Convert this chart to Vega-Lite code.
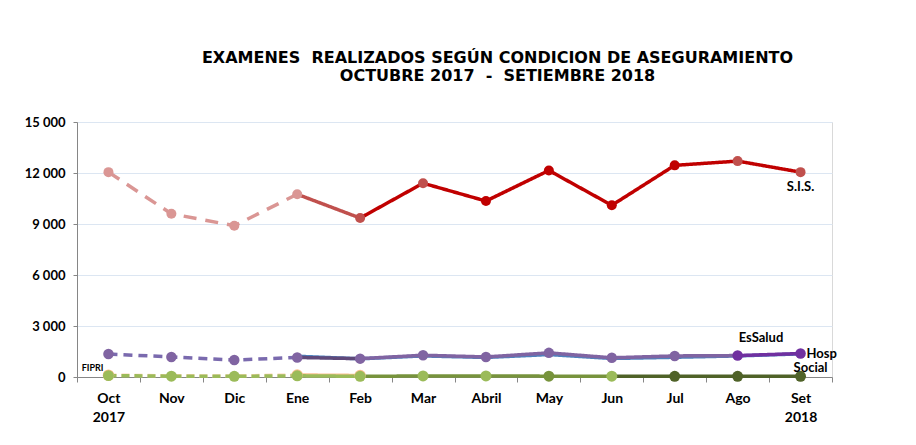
{
  "$schema": "https://vega.github.io/schema/vega-lite/v6.json",
  "width": 755,
  "height": 255,
  "autosize": "none",
  "padding": {"left": 77, "top": 122, "right": 84, "bottom": 68},
  "background": "white",
  "title": {
    "text": ["EXAMENES \u00a0REALIZADOS SEGÚN CONDICION DE ASEGURAMIENTO", "OCTUBRE 2017 \u00a0- \u00a0SETIEMBRE 2018"],
    "font": "DejaVu Sans",
    "fontSize": 16,
    "fontWeight": "bold",
    "color": "black",
    "anchor": "middle",
    "dx": 43,
    "offset": 32,
    "lineHeight": 18
  },
  "config": {
    "view": {"stroke": "#D9D9D9"},
    "axis": {"title": null}
  },
  "resolve": {"scale": {"color": "independent", "size": "independent"}},
  "datasets": {
    "lineas": [
      {"tramo": "Otros-A", "mes": "Oct", "valor": 110},
      {"tramo": "Otros-A", "mes": "Nov", "valor": 70},
      {"tramo": "Otros-A", "mes": "Dic", "valor": 60},
      {"tramo": "Otros-A", "mes": "Ene", "valor": 120},
      {"tramo": "Otros-B", "mes": "Ene", "valor": 120},
      {"tramo": "Otros-B", "mes": "Feb", "valor": 90},
      {"tramo": "FIPRI-A", "mes": "Oct", "valor": 80},
      {"tramo": "FIPRI-A", "mes": "Nov", "valor": 50},
      {"tramo": "FIPRI-A", "mes": "Dic", "valor": 40},
      {"tramo": "FIPRI-A", "mes": "Ene", "valor": 70},
      {"tramo": "FIPRI-B", "mes": "Ene", "valor": 70},
      {"tramo": "FIPRI-B", "mes": "Feb", "valor": 40},
      {"tramo": "FIPRI-C", "mes": "Feb", "valor": 40},
      {"tramo": "FIPRI-C", "mes": "Mar", "valor": 60},
      {"tramo": "FIPRI-C", "mes": "Abril", "valor": 60},
      {"tramo": "FIPRI-C", "mes": "May", "valor": 50},
      {"tramo": "FIPRI-C", "mes": "Jun", "valor": 50},
      {"tramo": "FIPRI-D", "mes": "Jun", "valor": 50},
      {"tramo": "FIPRI-D", "mes": "Jul", "valor": 40},
      {"tramo": "FIPRI-D", "mes": "Ago", "valor": 40},
      {"tramo": "FIPRI-D", "mes": "Set", "valor": 40},
      {"tramo": "EsSalud-B", "mes": "Ene", "valor": 1220},
      {"tramo": "EsSalud-B", "mes": "Feb", "valor": 1070},
      {"tramo": "EsSalud-B", "mes": "Mar", "valor": 1240},
      {"tramo": "EsSalud-B", "mes": "Abril", "valor": 1150},
      {"tramo": "EsSalud-B", "mes": "May", "valor": 1320},
      {"tramo": "EsSalud-B", "mes": "Jun", "valor": 1090},
      {"tramo": "EsSalud-B", "mes": "Jul", "valor": 1160},
      {"tramo": "EsSalud-B", "mes": "Ago", "valor": 1240},
      {"tramo": "EsSalud-B", "mes": "Set", "valor": 1360},
      {"tramo": "Hosp-A", "mes": "Oct", "valor": 1350},
      {"tramo": "Hosp-A", "mes": "Nov", "valor": 1180},
      {"tramo": "Hosp-A", "mes": "Dic", "valor": 1000},
      {"tramo": "Hosp-A", "mes": "Ene", "valor": 1150},
      {"tramo": "Hosp-AB", "mes": "Ene", "valor": 1150},
      {"tramo": "Hosp-AB", "mes": "Feb", "valor": 1080},
      {"tramo": "Hosp-B", "mes": "Feb", "valor": 1080},
      {"tramo": "Hosp-B", "mes": "Mar", "valor": 1280},
      {"tramo": "Hosp-B", "mes": "Abril", "valor": 1180},
      {"tramo": "Hosp-B", "mes": "May", "valor": 1420},
      {"tramo": "Hosp-B", "mes": "Jun", "valor": 1130},
      {"tramo": "Hosp-B", "mes": "Jul", "valor": 1240},
      {"tramo": "Hosp-B", "mes": "Ago", "valor": 1260},
      {"tramo": "Hosp-C", "mes": "Ago", "valor": 1260},
      {"tramo": "Hosp-C", "mes": "Set", "valor": 1380},
      {"tramo": "SIS-A", "mes": "Oct", "valor": 12050},
      {"tramo": "SIS-A", "mes": "Nov", "valor": 9600},
      {"tramo": "SIS-A", "mes": "Dic", "valor": 8900},
      {"tramo": "SIS-A", "mes": "Ene", "valor": 10750},
      {"tramo": "SIS-B", "mes": "Ene", "valor": 10750},
      {"tramo": "SIS-B", "mes": "Feb", "valor": 9350},
      {"tramo": "SIS-C", "mes": "Feb", "valor": 9350},
      {"tramo": "SIS-C", "mes": "Mar", "valor": 11400},
      {"tramo": "SIS-C", "mes": "Abril", "valor": 10350},
      {"tramo": "SIS-C", "mes": "May", "valor": 12150},
      {"tramo": "SIS-D", "mes": "May", "valor": 12150},
      {"tramo": "SIS-D", "mes": "Jun", "valor": 10100},
      {"tramo": "SIS-E", "mes": "Jun", "valor": 10100},
      {"tramo": "SIS-E", "mes": "Jul", "valor": 12450},
      {"tramo": "SIS-E", "mes": "Ago", "valor": 12700},
      {"tramo": "SIS-E", "mes": "Set", "valor": 12050}
    ],
    "puntos": [
      {"serie": "Otros", "grupo": "Otros", "mes": "Oct", "valor": 110},
      {"serie": "Otros", "grupo": "Otros", "mes": "Ene", "valor": 120},
      {"serie": "Otros", "grupo": "Otros", "mes": "Feb", "valor": 90},
      {"serie": "FIPRI", "grupo": "FIPRI-claro", "mes": "Oct", "valor": 80},
      {"serie": "FIPRI", "grupo": "FIPRI-claro", "mes": "Nov", "valor": 50},
      {"serie": "FIPRI", "grupo": "FIPRI-claro", "mes": "Dic", "valor": 40},
      {"serie": "FIPRI", "grupo": "FIPRI-claro", "mes": "Ene", "valor": 70},
      {"serie": "FIPRI", "grupo": "FIPRI-claro", "mes": "Feb", "valor": 40},
      {"serie": "FIPRI", "grupo": "FIPRI-claro", "mes": "Mar", "valor": 60},
      {"serie": "FIPRI", "grupo": "FIPRI-claro", "mes": "Abril", "valor": 60},
      {"serie": "FIPRI", "grupo": "FIPRI-medio", "mes": "May", "valor": 50},
      {"serie": "FIPRI", "grupo": "FIPRI-claro", "mes": "Jun", "valor": 50},
      {"serie": "FIPRI", "grupo": "FIPRI-oscuro", "mes": "Jul", "valor": 40},
      {"serie": "FIPRI", "grupo": "FIPRI-oscuro", "mes": "Ago", "valor": 40},
      {"serie": "FIPRI", "grupo": "FIPRI-oscuro", "mes": "Set", "valor": 40},
      {"serie": "Hosp", "grupo": "Hosp-normal", "mes": "Oct", "valor": 1350},
      {"serie": "Hosp", "grupo": "Hosp-normal", "mes": "Nov", "valor": 1180},
      {"serie": "Hosp", "grupo": "Hosp-normal", "mes": "Dic", "valor": 1000},
      {"serie": "Hosp", "grupo": "Hosp-normal", "mes": "Ene", "valor": 1150},
      {"serie": "Hosp", "grupo": "Hosp-normal", "mes": "Feb", "valor": 1080},
      {"serie": "Hosp", "grupo": "Hosp-normal", "mes": "Mar", "valor": 1280},
      {"serie": "Hosp", "grupo": "Hosp-normal", "mes": "Abril", "valor": 1180},
      {"serie": "Hosp", "grupo": "Hosp-normal", "mes": "May", "valor": 1420},
      {"serie": "Hosp", "grupo": "Hosp-normal", "mes": "Jun", "valor": 1130},
      {"serie": "Hosp", "grupo": "Hosp-normal", "mes": "Jul", "valor": 1240},
      {"serie": "Hosp", "grupo": "Hosp-oscuro", "mes": "Ago", "valor": 1260},
      {"serie": "Hosp", "grupo": "Hosp-oscuro", "mes": "Set", "valor": 1380},
      {"serie": "SIS", "grupo": "SIS-claro", "mes": "Oct", "valor": 12050},
      {"serie": "SIS", "grupo": "SIS-claro", "mes": "Nov", "valor": 9600},
      {"serie": "SIS", "grupo": "SIS-claro", "mes": "Dic", "valor": 8900},
      {"serie": "SIS", "grupo": "SIS-claro", "mes": "Ene", "valor": 10750},
      {"serie": "SIS", "grupo": "SIS-medio", "mes": "Feb", "valor": 9350},
      {"serie": "SIS", "grupo": "SIS-medio", "mes": "Mar", "valor": 11400},
      {"serie": "SIS", "grupo": "SIS-oscuro", "mes": "Abril", "valor": 10350},
      {"serie": "SIS", "grupo": "SIS-oscuro", "mes": "May", "valor": 12150},
      {"serie": "SIS", "grupo": "SIS-oscuro", "mes": "Jun", "valor": 10100},
      {"serie": "SIS", "grupo": "SIS-oscuro", "mes": "Jul", "valor": 12450},
      {"serie": "SIS", "grupo": "SIS-medio", "mes": "Ago", "valor": 12700},
      {"serie": "SIS", "grupo": "SIS-medio", "mes": "Set", "valor": 12050}
    ]
  },
  "encoding": {
    "x": {
      "field": "mes",
      "type": "ordinal",
      "bandPosition": 0.5,
      "scale": {
        "type": "band",
        "paddingInner": 0,
        "paddingOuter": 0,
        "domain": ["Oct", "Nov", "Dic", "Ene", "Feb", "Mar", "Abril", "May", "Jun", "Jul", "Ago", "Set"]
      },
      "axis": {
        "labelExpr": "datum.value == 'Oct' ? ['Oct','2017'] : datum.value == 'Set' ? ['Set','2018'] : datum.value",
        "labelFont": "Lato",
        "labelFontSize": 14,
        "labelFontWeight": "bold",
        "labelColor": "black",
        "labelAngle": 0,
        "labelPadding": 9,
        "labelLineHeight": 19,
        "tickBand": "extent",
        "tickSize": 5,
        "tickColor": "#868686",
        "domainColor": "#868686",
        "grid": false
      }
    },
    "y": {
      "field": "valor",
      "type": "quantitative",
      "scale": {"domain": [0, 15000], "nice": false},
      "axis": {
        "values": [0, 3000, 6000, 9000, 12000, 15000],
        "labelExpr": "replace(format(datum.value, ','), ',', ' ')",
        "labelFont": "Lato",
        "labelFontSize": 13,
        "labelFontWeight": "bold",
        "labelColor": "black",
        "labelPadding": 8,
        "gridColor": "#DCE6F2",
        "tickColor": "#868686",
        "tickSize": 4,
        "domainColor": "#868686"
      }
    }
  },
  "layer": [
    {
      "data": {"name": "lineas"},
      "mark": {"type": "line"},
      "encoding": {
        "detail": {"field": "tramo"},
        "color": {
          "field": "tramo",
          "legend": null,
          "scale": {
            "domain": ["Otros-A", "Otros-B", "FIPRI-A", "FIPRI-B", "FIPRI-C", "FIPRI-D", "EsSalud-B", "Hosp-A", "Hosp-AB", "Hosp-B", "Hosp-C", "SIS-A", "SIS-B", "SIS-C", "SIS-D", "SIS-E"],
            "range": ["#FCD5B5", "#FAC090", "#9BBB59", "#9BBB59", "#77933C", "#4F6228", "#4F81BD", "#7A6AAE", "#5F497A", "#8064A2", "#7030A0", "#DA9694", "#C0504D", "#C00000", "#C00000", "#C00000"]
          }
        },
        "strokeDash": {
          "field": "tramo",
          "legend": null,
          "scale": {
            "domain": ["Otros-A", "Otros-B", "FIPRI-A", "FIPRI-B", "FIPRI-C", "FIPRI-D", "EsSalud-B", "Hosp-A", "Hosp-AB", "Hosp-B", "Hosp-C", "SIS-A", "SIS-B", "SIS-C", "SIS-D", "SIS-E"],
            "range": [[8, 5], [1, 0], [8, 5], [1, 0], [1, 0], [1, 0], [1, 0], [9, 6], [1, 0], [1, 0], [1, 0], [13, 9], [1, 0], [1, 0], [1, 0], [1, 0]]
          }
        },
        "strokeWidth": {
          "field": "tramo",
          "legend": null,
          "scale": {
            "domain": ["Otros-A", "Otros-B", "FIPRI-A", "FIPRI-B", "FIPRI-C", "FIPRI-D", "EsSalud-B", "Hosp-A", "Hosp-AB", "Hosp-B", "Hosp-C", "SIS-A", "SIS-B", "SIS-C", "SIS-D", "SIS-E"],
            "range": [3.5, 3.5, 3.5, 3.5, 3.5, 3.5, 2.5, 4, 4.5, 4.5, 3.5, 5, 5, 5, 2.5, 5]
          }
        }
      }
    },
    {
      "data": {"name": "puntos"},
      "mark": {"type": "circle", "opacity": 1},
      "encoding": {
        "color": {
          "field": "grupo",
          "legend": null,
          "scale": {
            "domain": ["Otros", "FIPRI-claro", "FIPRI-medio", "FIPRI-oscuro", "Hosp-normal", "Hosp-oscuro", "SIS-claro", "SIS-medio", "SIS-oscuro"],
            "range": ["#FAC090", "#9BBB59", "#77933C", "#4F6228", "#8064A2", "#7030A0", "#DA9694", "#C0504D", "#C00000"]
          }
        },
        "size": {
          "field": "serie",
          "legend": null,
          "scale": {"domain": ["Otros", "FIPRI", "Hosp", "SIS"], "range": [130, 100, 170, 150]}
        }
      }
    },
    {
      "data": {"values": [{"mes": "Set", "valor": 11200, "texto": "S.I.S."}]},
      "mark": {"type": "text", "font": "Lato", "fontSize": 13, "fontWeight": "bold", "color": "black", "align": "center", "baseline": "middle"},
      "encoding": {"text": {"field": "texto"}}
    },
    {
      "data": {"values": [{"mes": "Ago", "valor": 2300, "texto": "EsSalud"}]},
      "mark": {"type": "text", "font": "Lato", "fontSize": 13, "fontWeight": "bold", "color": "black", "align": "left", "baseline": "middle", "dx": 1},
      "encoding": {"text": {"field": "texto"}}
    },
    {
      "data": {"values": [{"mes": "Set", "valor": 1380, "texto": "Hosp"}]},
      "mark": {"type": "text", "font": "Lato", "fontSize": 13, "fontWeight": "bold", "color": "black", "align": "left", "baseline": "middle", "dx": 6},
      "encoding": {"text": {"field": "texto"}}
    },
    {
      "data": {"values": [{"mes": "Set", "valor": 530, "texto": "Social"}]},
      "mark": {"type": "text", "font": "Lato", "fontSize": 13, "fontWeight": "bold", "color": "black", "align": "center", "baseline": "middle", "dx": 10},
      "encoding": {"text": {"field": "texto"}}
    },
    {
      "data": {"values": [{"mes": "Oct", "valor": 530, "texto": "FIPRI"}]},
      "mark": {"type": "text", "font": "Lato", "fontSize": 9, "fontWeight": "bold", "color": "black", "align": "right", "baseline": "middle", "dx": -5},
      "encoding": {"text": {"field": "texto"}}
    }
  ]
}
